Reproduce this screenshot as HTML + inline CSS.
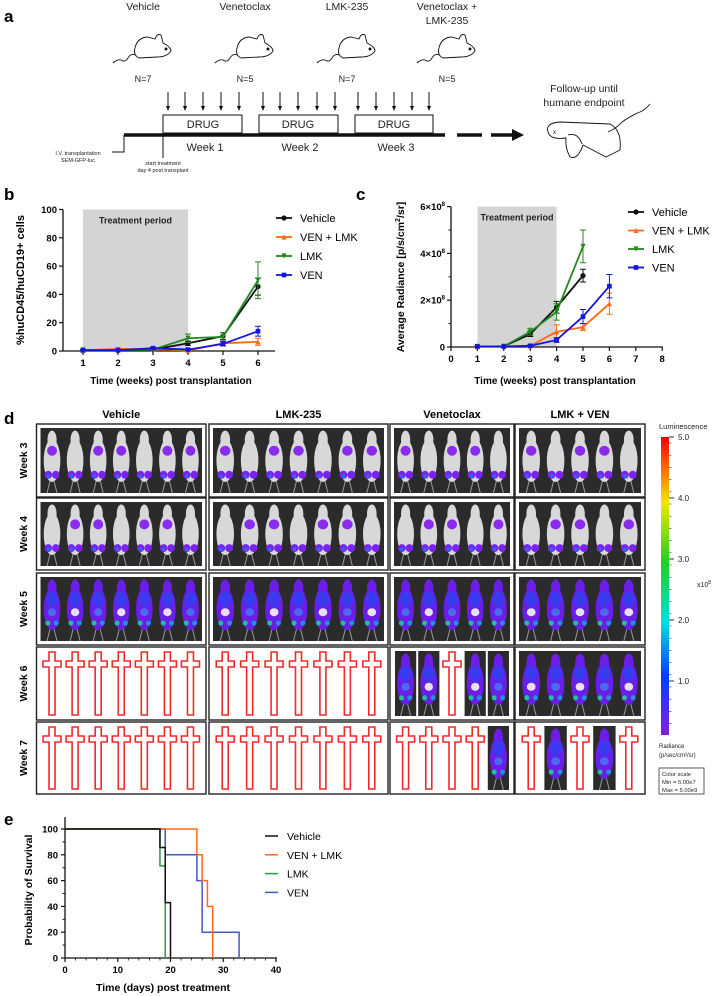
<!DOCTYPE html>
<html><head><meta charset="utf-8"><style>
body{margin:0;background:#fff;}
svg{display:block;font-family:"Liberation Sans",Arial,sans-serif;}
.b{font-weight:bold}
</style></head><body>
<svg id="fig" width="716" height="996" viewBox="0 0 716 996" xmlns="http://www.w3.org/2000/svg">
<g id="pa">
<text x="4" y="22" font-size="17" class="b">a</text>
<g font-size="10.5" text-anchor="middle" fill="#222" style="font-family:'Liberation Sans Narrow','Liberation Sans',sans-serif">
<text x="143" y="10">Vehicle</text>
<text x="245" y="10">Venetoclax</text>
<text x="347" y="10">LMK-235</text>
<text x="447" y="10">Venetoclax +</text>
<text x="447" y="24">LMK-235</text>
<text x="143" y="82" font-size="9">N=7</text>
<text x="245" y="82" font-size="9">N=5</text>
<text x="347" y="82" font-size="9">N=7</text>
<text x="447" y="82" font-size="9">N=5</text>
<text x="205" y="151" font-size="11">Week 1</text>
<text x="300" y="151" font-size="11">Week 2</text>
<text x="396" y="151" font-size="11">Week 3</text>
<text x="203" y="128" font-size="11">DRUG</text>
<text x="298" y="128" font-size="11">DRUG</text>
<text x="394" y="128" font-size="11">DRUG</text>
<text x="584" y="92" font-size="10.5">Follow-up until</text>
<text x="584" y="106" font-size="10.5">humane endpoint</text>
<text x="78" y="155" font-size="5.5">I.V. transplantation</text>
<text x="78" y="162" font-size="5.5">SEM-GFP-luc</text>
<text x="163" y="165" font-size="5.5">start treatment</text>
<text x="163" y="172" font-size="5.5">day 4 post transplant</text>
</g>
<g fill="none" stroke="#111" stroke-width="1">
<rect x="163" y="115" width="79" height="18"/>
<rect x="259" y="115" width="79" height="18"/>
<rect x="355" y="115" width="78" height="18"/>
<line x1="124" y1="135" x2="445" y2="135" stroke-width="3.5"/>
<polyline points="112,152 124,152 124,135"/>
<line x1="163" y1="135" x2="163" y2="158"/>
<line x1="457" y1="135" x2="482" y2="135" stroke-width="3.5"/>
<line x1="491" y1="135" x2="514" y2="135" stroke-width="3.5"/>
</g>
<polygon points="512,129 524,135 512,141" fill="#111"/>
<g id="arrows"></g>
<g id="mice"></g>
<g fill="none" stroke="#111" stroke-width="0.9">
<path d="M548,132 Q545,123 560,122 L610,124 Q622,130 620,150 L606,157 L583,145 Q578,160 570,157 Q565,148 566,138 Q550,140 548,132Z"/>
<path d="M568,135 Q578,132 582,144"/>
<path d="M608,132 Q617,128 622,122 Q630,116 640,112 Q645,110 650,104"/>
<text x="553" y="134" font-size="6" stroke="none" fill="#111">x</text>
</g>
</g>
<g id="pb"></g>
<g id="pc"></g>
<g id="pd"></g>
<g id="pe"></g>
</svg>
<script>
const bWeeks=[1,2,3,4,5,6];
const bVehicle=[0.5,0.5,1,5.5,10.5,45.5];
const bCombo=[0.5,1.5,1.5,0.3,5.5,6.5];
const bLMK=[0.8,0.8,1,9,10,50];
const bVEN=[0.5,0.5,2,1,5,14];
const bVehicleErr=[0.3,0.3,0.3,1.5,2.5,6];
const bComboErr=[0.3,0.5,0.5,0.3,1.5,2.5];
const bLMKErr=[0.3,0.3,0.3,3,3,13];
const bVENErr=[0.3,0.3,0.5,0.5,1.5,3.5];
const bYTicks=[0,20,40,60,80,100];
const cWeeks=[1,2,3,4,5,6];
const cVehicle=[0.02,0.03,0.55,1.7,3.05,null];
const cCombo=[0.02,0.03,0.05,0.65,0.85,1.85];
const cLMK=[0.02,0.03,0.65,1.5,4.3,null];
const cVEN=[0.02,0.02,0.05,0.3,1.3,2.6];
const cVehicleErr=[0.01,0.01,0.1,0.25,0.27,0];
const cComboErr=[0.01,0.01,0.05,0.3,0.15,0.45];
const cLMKErr=[0.01,0.01,0.15,0.35,0.7,0];
const cVENErr=[0.01,0.01,0.03,0.1,0.3,0.5];
const cXTicks=[0,1,2,3,4,5,6,7,8];
const cYTicks=[0,2,4,6];
const eVehicleT=[0,18,19,20];
const eVehicleS=[100,85.7,42.9,0];
const eComboT=[0,25,26,27,28];
const eComboS=[100,80,60,40,0];
const eLMKT=[0,18,19];
const eLMKS=[100,71.4,0];
const eVENT=[0,19,25,26,33];
const eVENS=[100,80,60,20,0];
const eXTicks=[0,10,20,30,40];
const eYTicks=[0,20,40,60,80,100];

const NS="http://www.w3.org/2000/svg";
function mk(parent,tag,attrs,txt){const e=document.createElementNS(NS,tag);for(const k in attrs)e.setAttribute(k,attrs[k]);if(txt!=null)e.textContent=txt;parent.appendChild(e);return e;}

const arrG=document.getElementById('arrows');
[168,185,203,221,239,263,280,298,317,335,358,376,394,412,429].forEach(x=>{
 const g=mk(arrG,'g',{});
 
 
 mk(g,'line',{x1:x,y1:92,x2:x,y2:108,stroke:'#111','stroke-width':1});
 mk(g,'polygon',{points:`${x-2},106 ${x+2},106 ${x},111`,fill:'#111'});
});
const miceG=document.getElementById('mice');
[143,245,347,447].forEach(cx=>{
 const g=mk(miceG,'g',{fill:'none',stroke:'#111','stroke-width':0.9,transform:`translate(${cx-20},33)`});
 
 
 mk(g,'path',{d:'M12,15 Q14,5 24,4 L32,6 Q34,0 38,2 L40,10 Q48,14 48,18 Q44,24 34,24 L16,25 Q10,22 12,15Z'});
 mk(g,'path',{d:'M12,22 Q8,20 5,25 Q2,30 -2,27 Q-6,26 -10,30'});
 mk(g,'circle',{cx:43,cy:16,r:1,fill:'#111'});
});

function axisLabel(g,x,y,t,opts){return mk(g,'text',Object.assign({x:x,y:y,'font-size':10,'font-weight':'bold','text-anchor':'middle'},opts||{}),t);}

function lineChart(g,cfg){
 const sx=cfg.sx, sy=cfg.sy;
 const sh=mk(g,'rect',{x:sx(1),y:sy(cfg.shadeTop),width:sx(4)-sx(1),height:sy(0)-sy(cfg.shadeTop),fill:'#d4d4d4'});
 
 
 const tp=mk(g,'text',{x:(sx(1)+sx(4))/2,y:sy(cfg.shadeTop)+14,'font-size':9,'font-weight':'bold','text-anchor':'middle',fill:'#222'},'Treatment period');
 
 
 const ax=mk(g,'path',{d:`M${cfg.x0},${sy(cfg.yMax)} V${sy(0)} H${cfg.x1}`,fill:'none',stroke:'#111','stroke-width':1.3});
 
 
 cfg.yTicks.forEach((v,i)=>{
  mk(g,'line',{x1:cfg.x0-4,x2:cfg.x0,y1:sy(v),y2:sy(v),stroke:'#111','stroke-width':1.2});
  const t=mk(g,'text',{x:cfg.x0-6,y:sy(v)+3.5,'font-size':9.5,'font-weight':'bold','text-anchor':'end'});
  
  
  if(cfg.yFmt){t.innerHTML=cfg.yFmt(v);}else t.textContent=v;
  if(cfg.minorY&&i<cfg.yTicks.length-1){const m=(v+cfg.yTicks[i+1])/2;mk(g,'line',{x1:cfg.x0-2.5,x2:cfg.x0,y1:sy(m),y2:sy(m),stroke:'#111'});}
 });
 cfg.xTicks.forEach(v=>{
  mk(g,'line',{x1:sx(v),x2:sx(v),y1:sy(0),y2:sy(0)+4,stroke:'#111','stroke-width':1.2});
  const t=mk(g,'text',{x:sx(v),y:sy(0)+15,'font-size':9.5,'font-weight':'bold','text-anchor':'middle'},v);
  
  
 });
 cfg.series.forEach(s=>{
  const sg=mk(g,'g',{});
  
  
  let d='';
  cfg.xs.forEach((w,i)=>{if(s.v[i]==null)return;d+=(d?'L':'M')+sx(w)+','+sy(s.v[i]);});
  mk(sg,'path',{d:d,fill:'none',stroke:s.c,'stroke-width':1.8});
  cfg.xs.forEach((w,i)=>{
   if(s.v[i]==null)return;
   const x=sx(w),y=sy(s.v[i]),e=s.e[i];
   if(e>0){mk(sg,'path',{d:`M${x},${sy(s.v[i]+e)}V${sy(Math.max(0,s.v[i]-e))}M${x-3},${sy(s.v[i]+e)}h6M${x-3},${sy(Math.max(0,s.v[i]-e))}h6`,stroke:s.c,'stroke-width':1,fill:'none'});}
   marker(sg,s.m,x,y,s.c,2.6);
  });
 });
 cfg.series.forEach((s,i)=>{
  const y=cfg.legY+i*cfg.legDy;
  const lg=mk(g,'g',{});
  
  
  mk(lg,'line',{x1:cfg.legX,x2:cfg.legX+16,y1:y,y2:y,stroke:s.c,'stroke-width':1.8});
  marker(lg,s.m,cfg.legX+8,y,s.c,2.6);
  mk(lg,'text',{x:cfg.legX+24,y:y+4,'font-size':11},s.name);
 });
}
function marker(g,m,x,y,c,r){
 if(m==='o')mk(g,'circle',{cx:x,cy:y,r:r,fill:c});
 else if(m==='^')mk(g,'polygon',{points:`${x-r},${y+r} ${x+r},${y+r} ${x},${y-r}`,fill:c});
 else if(m==='v')mk(g,'polygon',{points:`${x-r},${y-r} ${x+r},${y-r} ${x},${y+r}`,fill:c});
 else mk(g,'rect',{x:x-r*0.9,y:y-r*0.9,width:r*1.8,height:r*1.8,fill:c});
}

(function(){
 const g=document.getElementById('pb');
 mk(g,'text',{x:4,y:200,'font-size':17,'font-weight':'bold'},'b');
 const sx=w=>83+35*(w-1), sy=v=>351-1.415*v;
 lineChart(g,{sx,sy,x0:63,x1:275,yMax:100,shadeTop:100,yTicks:bYTicks,xTicks:bWeeks,xs:bWeeks,minorY:false,
  series:[{id:'vehicle',name:'Vehicle',c:'#111',m:'o',v:bVehicle,e:bVehicleErr},
          {id:'ven-lmk',name:'VEN + LMK',c:'#ff6a13',m:'^',v:bCombo,e:bComboErr},
          {id:'lmk',name:'LMK',c:'#1f8a1f',m:'v',v:bLMK,e:bLMKErr},
          {id:'ven',name:'VEN',c:'#1515dd',m:'s',v:bVEN,e:bVENErr}],
  legX:276,legY:218,legDy:19});
 const yl=mk(g,'text',{x:0,y:0,'font-size':11,'font-weight':'bold','text-anchor':'middle',transform:'translate(24,280) rotate(-90)'},'%huCD45/huCD19+ cells');
 
 
 const xl=axisLabel(g,171,384,'Time (weeks) post transplantation');
 
 
})();
(function(){
 const g=document.getElementById('pc');
 mk(g,'text',{x:356,y:200,'font-size':17,'font-weight':'bold'},'c');
 const sx=w=>451+26.4*w, sy=v=>347-23.4*v;
 lineChart(g,{sx,sy,x0:451,x1:663,yMax:6,shadeTop:6,yTicks:cYTicks,xTicks:cXTicks,xs:cWeeks,minorY:true,
  yFmt:v=>v===0?'0':v+'×10<tspan dy="-4" font-size="6">8</tspan>',
  series:[{id:'vehicle',name:'Vehicle',c:'#111',m:'o',v:cVehicle,e:cVehicleErr},
          {id:'ven-lmk',name:'VEN + LMK',c:'#ff6a13',m:'^',v:cCombo,e:cComboErr},
          {id:'lmk',name:'LMK',c:'#1f8a1f',m:'v',v:cLMK,e:cLMKErr},
          {id:'ven',name:'VEN',c:'#1515dd',m:'s',v:cVEN,e:cVENErr}],
  legX:628,legY:212,legDy:18.5});
 const yl=mk(g,'text',{x:0,y:0,'font-size':10.5,'font-weight':'bold','text-anchor':'middle',transform:'translate(404,277) rotate(-90)'});
 yl.innerHTML='Average Radiance [p/s/cm<tspan dy="-4" font-size="7">2</tspan><tspan dy="4">/sr]</tspan>';
 
 
 const xl=axisLabel(g,555,384,'Time (weeks) post transplantation');
 
 
})();

(function(){
 const g=document.getElementById('pd');
 mk(g,'text',{x:4,y:424,'font-size':17,'font-weight':'bold'},'d');
 const groups=[{x0:36.5,x1:206,n:7,name:'Vehicle'},{x0:209,x1:388,n:7,name:'LMK-235'},{x0:390,x1:514,n:5,name:'Venetoclax'},{x0:515,x1:645,n:5,name:'LMK + VEN'}];
 const rows=[[424,497],[498,570],[573,645],[647,720],[722,794]];
 const rowNames=['Week 3','Week 4','Week 5','Week 6','Week 7'];
 const layout=[
  ['wwwwwww','wwwwwww','wwwww','wwwww'],
  ['wwwwwww','wwwwwww','wwwww','wwwww'],
  ['ppppppp','ppppppp','ppppp','ppppp'],
  ['xxxxxxx','xxxxxxx','ppxpp','ppppp'],
  ['xxxxxxx','xxxxxxx','xxxxp','xpxpx']];
 groups.forEach(gr=>{
  const t=mk(g,'text',{x:(gr.x0+gr.x1)/2,y:418,'font-size':11,'font-weight':'bold','text-anchor':'middle',style:"font-family:'Liberation Sans Narrow','Liberation Sans',sans-serif"},gr.name);
  
  
 });
 rowNames.forEach((rn,ri)=>{
  const cy=(rows[ri][0]+rows[ri][1])/2;
  const t=mk(g,'text',{x:0,y:0,'font-size':10.5,'font-weight':'bold','text-anchor':'middle',transform:`translate(27,${cy}) rotate(-90)`},rn);
  
  
  groups.forEach((gr,gi)=>{
   const [y0,y1]=rows[ri];
   const cell=mk(g,'g',{});
   
   
   mk(cell,'rect',{x:gr.x0,y:y0,width:gr.x1-gr.x0,height:y1-y0,fill:'#fff',stroke:'#222','stroke-width':1.4});
   const L=layout[ri][gi];
   const allImg=!L.includes('x');
   const w=(gr.x1-gr.x0-8)/gr.n;
   if(allImg) mk(cell,'rect',{x:gr.x0+4,y:y0+4,width:gr.x1-gr.x0-8,height:y1-y0-8,fill:'#2b2b2b'});
   for(let i=0;i<gr.n;i++){
    const cx=gr.x0+4+w*(i+0.5);
    const c=L[i];
    if(c==='x'){
     const top=y0+5,h=y1-y0-10;
     mk(cell,'path',{d:`M${cx-3},${top}h6v9h6v6h-6V${top+h}h-6V${top+15}h-6v-6h6Z`,fill:'none',stroke:'#ee2a2a','stroke-width':1.6});
    } else {
     if(!allImg) mk(cell,'rect',{x:cx-w/2+1,y:y0+4,width:w-2,height:y1-y0-8,fill:'#2b2b2b'});
     drawMouse(cell,cx,y0+4,y1-4,w,c,ri*10+gi*3+i);
    }
   }
  });
 });
 function drawMouse(cell,cx,top,bot,w,c,seed){
  const h=bot-top, rx=Math.min(w*0.36,11);
  const body=c==='w'?'#d8d8d8':'#6a1ee8';
  mk(cell,'line',{x1:cx-2,y1:bot-12,x2:cx-5,y2:bot,stroke:'#999','stroke-width':1});
  mk(cell,'line',{x1:cx+2,y1:bot-12,x2:cx+5,y2:bot,stroke:'#999','stroke-width':1});
  mk(cell,'ellipse',{cx:cx,cy:top+h*0.5,rx:rx,ry:h*0.33,fill:body});
  mk(cell,'ellipse',{cx:cx,cy:top+h*0.18,rx:rx*0.55,ry:h*0.14,fill:body});
  if(c==='w'){
   mk(cell,'ellipse',{cx:cx-rx*0.45,cy:top+h*0.72,rx:rx*0.45,ry:4,fill:'#7a22f0'});
   mk(cell,'ellipse',{cx:cx+rx*0.45,cy:top+h*0.72,rx:rx*0.45,ry:4,fill:'#7a22f0'});
   if(seed%3!==1) mk(cell,'ellipse',{cx:cx,cy:top+h*0.35,rx:rx*0.6,ry:5,fill:'#8a2cf0'});
   mk(cell,'circle',{cx:cx-rx*0.45,cy:top+h*0.74,r:1.8,fill:'#2a6af0'});
  } else {
   mk(cell,'ellipse',{cx:cx,cy:top+h*0.35,rx:rx*0.7,ry:h*0.12,fill:'#3a3af0'});
   mk(cell,'ellipse',{cx:cx,cy:top+h*0.55,rx:rx*0.5,ry:4,fill:seed%2?'#e8e0f8':'#4a6af0'});
   mk(cell,'circle',{cx:cx-rx*0.5,cy:top+h*0.72,r:2.5,fill:'#20c0a0'});
   mk(cell,'circle',{cx:cx+rx*0.5,cy:top+h*0.72,r:2.5,fill:'#2090e0'});
  }
 }
 const defs=mk(g,'defs',{});
 const lg=mk(defs,'linearGradient',{id:'lum',x1:0,y1:0,x2:0,y2:1});
 [['0','#f00000'],['0.12','#ff7a00'],['0.22','#f0e800'],['0.42','#20d020'],['0.62','#00e0e0'],['0.8','#0040ff'],['1','#8020e0']].forEach(s=>mk(lg,'stop',{offset:s[0],'stop-color':s[1]}));
 const cb=mk(g,'rect',{x:661,y:437,width:8,height:298,fill:'url(#lum)'});
 
 
 const cbTicks=[5,4,3,2,1];
 cbTicks.forEach(v=>{
  const y=437+(5-v)*61;
  mk(g,'line',{x1:669,x2:674,y1:y,y2:y,stroke:'#333'});
  const t=mk(g,'text',{x:678,y:y+3,'font-size':8,fill:'#222'},v.toFixed(1));
  
  
 });
 for(let k=0;k<24;k++){const y=437+k*12.2+6;if(y<735)mk(g,'line',{x1:669,x2:671.5,y1:y,y2:y,stroke:'#333','stroke-width':0.6});}
 mk(g,'text',{x:659,y:429,'font-size':7.5,fill:'#222'},'Luminescence');
 const xe=mk(g,'text',{x:697,y:587,'font-size':7,fill:'#222'});
 xe.innerHTML='x10<tspan dy="-3" font-size="5">8</tspan>';
 mk(g,'text',{x:659,y:748,'font-size':6,fill:'#222'},'Radiance');
 mk(g,'text',{x:659,y:757,'font-size':6,fill:'#222'},'(p/sec/cm²/sr)');
 mk(g,'rect',{x:659,y:768,width:45,height:26,fill:'none',stroke:'#333','stroke-width':0.8});
 mk(g,'text',{x:662,y:776,'font-size':5.8,fill:'#222'},'Color scale');
 mk(g,'text',{x:662,y:784,'font-size':5.8,fill:'#222'},'Min = 5.00e7');
 mk(g,'text',{x:662,y:792,'font-size':5.8,fill:'#222'},'Max = 5.00e9');
})();

(function(){
 const g=document.getElementById('pe');
 mk(g,'text',{x:4,y:825,'font-size':17,'font-weight':'bold'},'e');
 const sx=d=>65+5.275*d, sy=v=>958-1.29*v;
 const ax=mk(g,'path',{d:`M65,817V958H277`,fill:'none',stroke:'#111','stroke-width':1.3});
 
 
 eYTicks.forEach((v,i)=>{
  mk(g,'line',{x1:61,x2:65,y1:sy(v),y2:sy(v),stroke:'#111','stroke-width':1.2});
  if(i<eYTicks.length-1)mk(g,'line',{x1:62.5,x2:65,y1:sy(v+10),y2:sy(v+10),stroke:'#111'});
  const t=mk(g,'text',{x:58,y:sy(v)+3.5,'font-size':9.5,'font-weight':'bold','text-anchor':'end'},v);
  
  
 });
 for(let d=0;d<=40;d+=2){mk(g,'line',{x1:sx(d),x2:sx(d),y1:958,y2:d%10===0?962:960.5,stroke:'#111','stroke-width':d%10===0?1.2:0.8});}
 eXTicks.forEach(v=>{
  const t=mk(g,'text',{x:sx(v),y:973,'font-size':9.5,'font-weight':'bold','text-anchor':'middle'},v);
  
  
 });
 const series=[
  {id:'ven',name:'VEN',c:'#4457c4',t:eVENT,s:eVENS},
  {id:'ven-lmk',name:'VEN + LMK',c:'#ff6a1a',t:eComboT,s:eComboS},
  {id:'lmk',name:'LMK',c:'#2a9a4a',t:eLMKT,s:eLMKS},
  {id:'vehicle',name:'Vehicle',c:'#111',t:eVehicleT,s:eVehicleS}];
 series.forEach(se=>{
  let d=`M${sx(se.t[0])},${sy(se.s[0])}`;
  for(let i=1;i<se.t.length;i++){d+=`H${sx(se.t[i])}V${sy(se.s[i])}`;}
  const p=mk(g,'path',{d:d,fill:'none',stroke:se.c,'stroke-width':1.5});
  
  
 });
 const leg=[series[3],series[1],series[2],series[0]];
 leg.forEach((se,i)=>{
  const y=836+i*18.8;
  const lg=mk(g,'g',{});
  
  
  mk(lg,'line',{x1:265,x2:278,y1:y,y2:y,stroke:se.c,'stroke-width':1.5});
  mk(lg,'text',{x:287,y:y+4,'font-size':10.5},se.name);
 });
 const yl=mk(g,'text',{x:0,y:0,'font-size':10.5,'font-weight':'bold','text-anchor':'middle',transform:'translate(32,890) rotate(-90)'},'Probability of Survival');
 
 
 const xl=axisLabel(g,163,991,'Time (days) post treatment',{'font-size':10.5});
 
 
})();
</script>
</body></html>
